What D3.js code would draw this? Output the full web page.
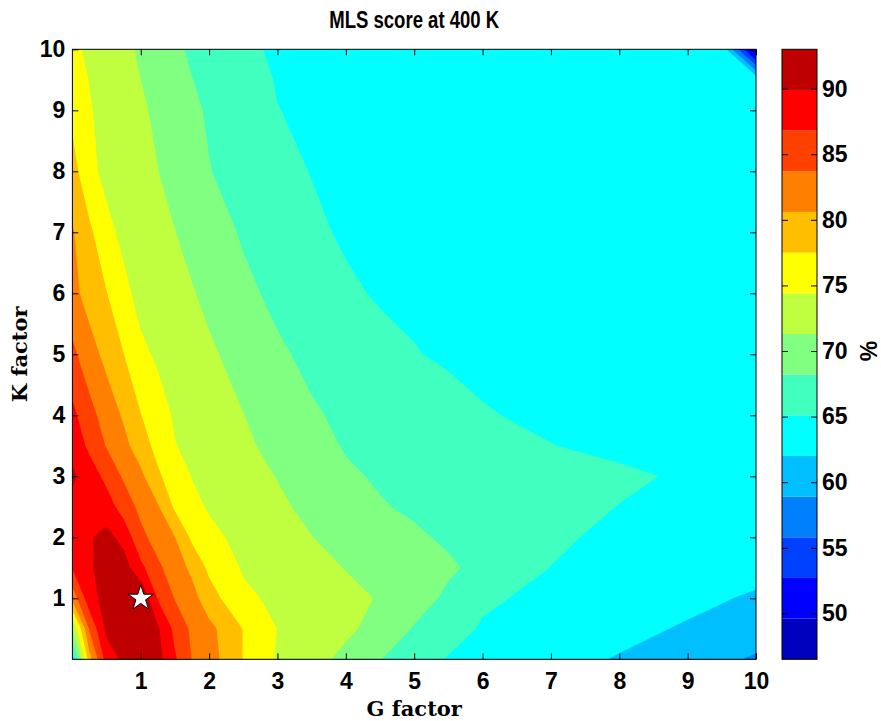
<!DOCTYPE html>
<html><head><meta charset="utf-8">
<script src="https://cdn.jsdelivr.net/npm/d3@7/dist/d3.min.js"></script>
<style>body{margin:0;background:#fff}</style>
</head><body>
<svg id="chart" width="881" height="721"></svg>
<script>
// ---- data ----
const gFactor = [0, 0.25, 0.5, 0.75, 1, 1.25, 1.5, 1.75, 2, 2.5, 3, 3.5, 4, 4.5, 5, 5.5, 6, 7, 8, 9, 9.5, 10];
const kFactor = [0, 0.5, 1, 1.5, 2, 2.5, 3, 3.5, 4, 5, 6, 7, 8, 9, 9.5, 10];
// MLS score (%) — one array per K factor value (rows), one entry per G factor value
const scoreK00 = [63.0, 79.5, 88.2, 90.6, 91.2, 91.0, 87.2, 83.6, 82.0, 77.4, 74.1, 72.4, 70.5, 68.3, 66.4, 64.9, 64.3, 63.0, 61.8, 60.2, 59.5, 58.5];
const scoreK05 = [71.0, 84.1, 90.6, 91.6, 91.8, 90.3, 86.0, 83.1, 81.5, 77.4, 74.35, 73.1, 71.9, 70.2, 68.0, 66.3, 64.8, 63.9, 62.8, 61.7, 61.1, 60.5];
const scoreK10 = [81.7, 88.8, 91.0, 91.5, 93.0, 86.6, 83.55, 81.75, 78.8, 75.0, 73.8, 72.9, 72.1, 71.1, 69.35, 67.7, 65.6, 64.3, 63.6, 62.7, 62.2, 61.6];
const scoreK15 = [87.0, 89.4, 91.6, 91.4, 87.6, 84.3, 82.2, 79.9, 76.9, 74.1, 73.2, 72.2, 71.2, 70.3, 69.4, 68.6, 67.5, 65.05, 64.4, 63.7, 63.35, 63.0];
const scoreK20 = [88.0, 89.6, 90.85, 88.9, 84.5, 82.5, 80.65, 76.9, 75.2, 73.5, 72.4, 71.35, 70.4, 69.5, 68.6, 67.8, 67.1, 65.7, 64.3, 64.1, 64.0, 63.9];
const scoreK25 = [89.1, 89.5, 88.3, 85.4, 82.9, 80.9, 77.0, 75.2, 74.1, 72.9, 71.8, 70.6, 69.5, 68.4, 67.8, 67.4, 66.9, 66.0, 65.05, 64.6, 64.4, 64.2];
const scoreK30 = [90.4, 88.5, 85.9, 83.3, 81.3, 78.0, 75.9, 74.3, 73.6, 72.4, 71.2, 69.8, 68.6, 67.9, 67.6, 67.25, 66.9, 66.2, 65.5, 64.8, 64.6, 64.3];
const scoreK35 = [89.0, 86.1, 83.5, 81.5, 79.0, 76.5, 74.5, 73.8, 73.1, 71.8, 70.5, 69.1, 68.0, 67.6, 67.1, 66.6, 66.1, 65.15, 64.6, 64.4, 64.3, 64.2];
const scoreK40 = [87.6, 84.7, 82.4, 80.2, 77.6, 75.5, 74.1, 73.4, 72.7, 71.35, 69.9, 68.5, 67.7, 67.1, 66.5, 65.9, 65.25, 64.7, 64.4, 64.2, 64.1, 64.0];
const scoreK50 = [84.4, 81.9, 79.7, 77.55, 75.0, 74.0, 73.2, 72.5, 71.75, 70.2, 68.6, 67.6, 66.8, 66.0, 65.2, 64.8, 64.6, 64.4, 64.2, 64.0, 63.9, 63.8];
const scoreK60 = [81.6, 79.3, 77.6, 75.15, 73.5, 72.9, 72.3, 71.5, 70.6, 68.8, 67.6, 66.6, 65.6, 64.8, 64.7, 64.5, 64.4, 64.2, 64.0, 63.8, 63.7, 63.6];
const scoreK70 = [80.9, 78.1, 75.2, 73.7, 73.1, 72.2, 71.35, 70.4, 69.5, 67.9, 66.8, 65.7, 64.7, 64.6, 64.5, 64.3, 64.2, 64.0, 63.8, 63.6, 63.5, 63.4];
const scoreK80 = [78.7, 75.2, 73.6, 73.0, 72.2, 71.35, 70.3, 69.3, 68.3, 67.1, 66.0, 65.0, 64.7, 64.5, 64.3, 64.1, 64.0, 63.8, 63.6, 63.4, 63.3, 63.2];
const scoreK90 = [76.7, 74.6, 73.6, 72.6, 71.7, 70.8, 69.7, 68.7, 67.9, 66.6, 65.15, 64.7, 64.6, 64.4, 64.2, 64.0, 63.9, 63.7, 63.5, 63.3, 63.1, 62.9];
const scoreK95 = [75.9, 74.3, 73.3, 72.3, 71.3, 70.3, 69.2, 68.25, 67.55, 66.2, 64.95, 64.6, 64.5, 64.3, 64.1, 63.95, 63.85, 63.65, 63.45, 63.25, 63.6, 64.3];
const scoreK100 = [75.0, 73.9, 72.9, 72.0, 70.9, 69.8, 68.7, 67.8, 67.2, 65.8, 64.6, 64.4, 64.3, 64.2, 64.0, 63.9, 63.8, 63.6, 63.4, 63.2, 64.3, 46.5];
const scoreRows = [scoreK00, scoreK05, scoreK10, scoreK15, scoreK20, scoreK25, scoreK30, scoreK35,
                   scoreK40, scoreK50, scoreK60, scoreK70, scoreK80, scoreK90, scoreK95, scoreK100];
const levels = [46.5, 49.6, 52.7, 55.8, 58.9, 62.0, 65.1, 68.2, 71.3, 74.4, 77.5, 80.6, 83.7, 86.8, 89.9, 93.0];
const bandColors = ["#0000BF","#0000FF","#0040FF","#0080FF","#00BFFF","#00FFFF","#40FFBF","#80FF80",
                    "#BFFF40","#FFFF00","#FFBF00","#FF8000","#FF4000","#FF0000","#BF0000"];
const xTicks = [1,2,3,4,5,6,7,8,9,10];
const yTicks = [1,2,3,4,5,6,7,8,9,10];
const cbTicks = [50,55,60,65,70,75,80,85,90];
const bestPoint = [{g: 1, k: 1}];

// ---- layout ----
const L = 72.4, R = 756, T = 49.3, B = 659.3;
const cbL = 782, cbR = 817;
const svg = d3.select("#chart");
const x = d3.scaleLinear().domain([0, 10]).range([L, R]);
const y = d3.scaleLinear().domain([0, 10]).range([B, T]);
const cy = d3.scaleLinear().domain([levels[0], levels[levels.length - 1]]).range([B, T]);
const FONT = "'Liberation Sans', Arial, Helvetica, sans-serif";
const SERIF = "'DejaVu Serif', 'Liberation Serif', serif";

// ---- filled contours ----
const nx = gFactor.length, ny = kFactor.length;
const flat = [];
scoreRows.forEach(r => r.forEach(v => flat.push(v)));
function idxToVal(g, arr) {
  const t = g - 0.5;
  if (t <= 0) return arr[0];
  if (t >= arr.length - 1) return arr[arr.length - 1];
  const i = Math.floor(t), f = t - i;
  return arr[i] + f * (arr[i + 1] - arr[i]);
}
const proj = d3.geoTransform({
  point: function(px, py) { this.stream.point(x(idxToVal(px, gFactor)), y(idxToVal(py, kFactor))); }
});
const path = d3.geoPath(proj);
const contours = d3.contours().size([nx, ny]).thresholds(levels.slice(1, -1))(flat);

const plot = svg.append("g");
plot.append("rect").attr("x", L).attr("y", T).attr("width", R - L).attr("height", B - T)
  .attr("fill", bandColors[0]);
plot.selectAll("path.band").data(contours).join("path")
  .attr("class", "band")
  .attr("d", path)
  .attr("fill", d => bandColors[levels.indexOf(d.value)])
  .attr("stroke", "none");

// star
plot.selectAll("path.star").data(bestPoint).join("path")
  .attr("class", "star")
  .attr("transform", d => `translate(${x(d.g)},${y(d.k)})`)
  .attr("d", d3.symbol().type(d3.symbolStar).size(200)())
  .attr("fill", "#fff").attr("stroke", "#000").attr("stroke-width", 1);

// ---- axes ----
function styleAxis(g) {
  g.select(".domain").remove();
  g.selectAll("line").attr("stroke", "#000").attr("stroke-width", 1);
  g.selectAll("text").attr("font-family", FONT).attr("font-weight", "bold")
    .attr("font-size", 23).attr("fill", "#000");
}
svg.append("g").attr("transform", `translate(0,${B})`)
  .call(d3.axisBottom(x).tickValues(xTicks).tickSize(-6).tickPadding(13).tickFormat(d3.format("d")))
  .call(styleAxis);
svg.append("g").attr("transform", `translate(0,${T})`)
  .call(d3.axisTop(x).tickValues(xTicks).tickSize(-6).tickFormat(""))
  .call(styleAxis);
svg.append("g").attr("transform", `translate(${L},0)`)
  .call(d3.axisLeft(y).tickValues(yTicks).tickSize(-6).tickPadding(7).tickFormat(d3.format("d")))
  .call(styleAxis);
svg.append("g").attr("transform", `translate(${R},0)`)
  .call(d3.axisRight(y).tickValues(yTicks).tickSize(-6).tickFormat(""))
  .call(styleAxis);
svg.append("rect").attr("x", L).attr("y", T).attr("width", R - L).attr("height", B - T)
  .attr("fill", "none").attr("stroke", "#000").attr("stroke-width", 1);

// ---- colorbar ----
const cb = svg.append("g");
cb.selectAll("rect.cbband").data(bandColors).join("rect")
  .attr("class", "cbband")
  .attr("x", cbL).attr("width", cbR - cbL)
  .attr("y", (d, i) => cy(levels[i + 1]))
  .attr("height", (d, i) => cy(levels[i]) - cy(levels[i + 1]))
  .attr("fill", d => d);
svg.append("g").attr("transform", `translate(${cbR},0)`)
  .call(d3.axisRight(cy).tickValues(cbTicks).tickSize(-6).tickPadding(5).tickFormat(d3.format("d")))
  .call(styleAxis);
svg.append("g").attr("transform", `translate(${cbL},0)`)
  .call(d3.axisLeft(cy).tickValues(cbTicks).tickSize(-6).tickFormat(""))
  .call(styleAxis);
svg.append("rect").attr("x", cbL).attr("y", T).attr("width", cbR - cbL).attr("height", B - T)
  .attr("fill", "none").attr("stroke", "#000").attr("stroke-width", 1);

// ---- labels ----
svg.append("text").attr("x", (L + R) / 2).attr("y", 28).attr("text-anchor", "middle")
  .attr("font-family", FONT).attr("font-weight", "bold").attr("font-size", 23)
  .attr("textLength", 170).attr("lengthAdjust", "spacingAndGlyphs")
  .text("MLS score at 400 K");
svg.append("text").attr("x", (L + R) / 2).attr("y", 716).attr("text-anchor", "middle")
  .attr("font-family", SERIF).attr("font-weight", "bold").attr("font-size", 21)
  .text("G factor");
svg.append("text").attr("transform", `translate(27,${(T + B) / 2}) rotate(-90)`).attr("text-anchor", "middle")
  .attr("font-family", SERIF).attr("font-weight", "bold").attr("font-size", 21)
  .text("K factor");
svg.append("text").attr("transform", `translate(877,351) rotate(-90)`).attr("text-anchor", "middle")
  .attr("font-family", FONT).attr("font-weight", "bold").attr("font-size", 23)
  .text("%");
</script>
</body></html>
